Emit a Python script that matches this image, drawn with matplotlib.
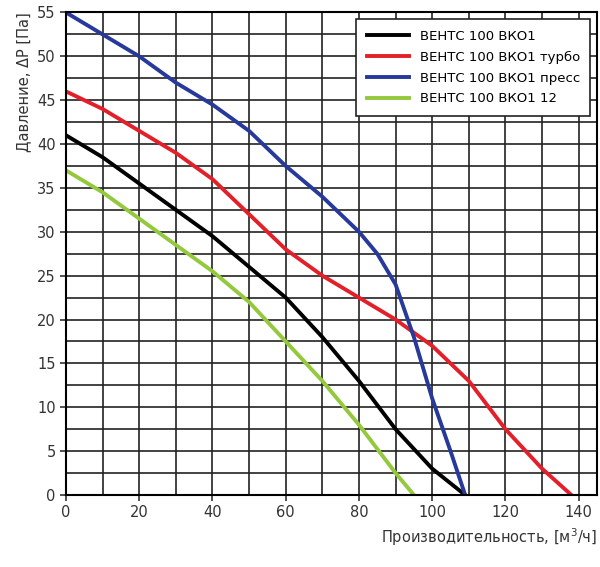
import numpy as np
import matplotlib.pyplot as plt

# Данные
x_std = [0, 10, 20, 30, 40, 50, 60, 70, 80, 90, 100, 109]
y_std = [41, 38.5, 35.5, 32.5, 29.5, 26, 22.5, 18, 13, 7.5, 3, 0]

x_turbo = [0, 10, 20, 30, 40, 50, 60, 70, 80, 90, 100, 110, 120, 130, 138]
y_turbo = [46, 44, 41.5, 39, 36, 32, 28, 25, 22.5, 20, 17, 13, 7.5, 3, 0]

x_press = [0, 10, 20, 30, 40, 50, 60, 70, 80, 85, 90, 95, 100, 105, 109]
y_press = [55, 52.5, 50, 47, 44.5, 41.5, 37.5, 34, 30, 27.5, 24, 18, 11, 5, 0]

x_12 = [0, 10, 20, 30, 40, 50, 60, 70, 80, 90, 95]
y_12 = [37, 34.5, 31.5, 28.5, 25.5, 22, 17.5, 13, 8, 2.5, 0]

series = [
    (x_std, y_std, '#000000', 'ВЕНТС 100 ВКО1'),
    (x_turbo, y_turbo, '#e3202a', 'ВЕНТС 100 ВКО1 турбо'),
    (x_press, y_press, '#27399a', 'ВЕНТС 100 ВКО1 пресс'),
    (x_12, y_12, '#94c83d', 'ВЕНТС 100 ВКО1 12'),
]

fig, ax = plt.subplots(figsize=(6, 5.67), dpi=100)
fig.subplots_adjust(left=0.11, right=0.995, top=0.978, bottom=0.127)

for xs, ys, c, lab in series:
    ax.plot(xs, ys, color=c, lw=2.8, label=lab)

ax.set_xlim(0, 145)
ax.set_ylim(0, 55)
ax.set_xticks(np.arange(0, 141, 20))
ax.set_yticks(np.arange(0, 56, 5))
ax.set_xticks(np.arange(0, 141, 10), minor=True)
ax.set_yticks(np.arange(0, 55.1, 2.5), minor=True)
ax.tick_params(which='minor', length=0)
ax.tick_params(which='major', direction='out', length=4, width=1.2, labelsize=10.5, colors='#333333')
ax.grid(True, which='both', color='#222222', lw=1.2)
ax.set_axisbelow(True)
for s in ax.spines.values():
    s.set_linewidth(1.5)

ax.set_xlabel('Производительность, [м$^3$/ч]', fontsize=10.5, color='#333333', loc='right')
ax.set_ylabel('Давление, ΔP [Па]', fontsize=10.5, color='#333333', loc='top')

leg = ax.legend(loc='upper right', fontsize=9.5, fancybox=False, framealpha=1,
                edgecolor='#222222', handlelength=3.2, borderpad=0.8, labelspacing=0.6)
leg.get_frame().set_linewidth(1.2)

plt.savefig('out.png')
